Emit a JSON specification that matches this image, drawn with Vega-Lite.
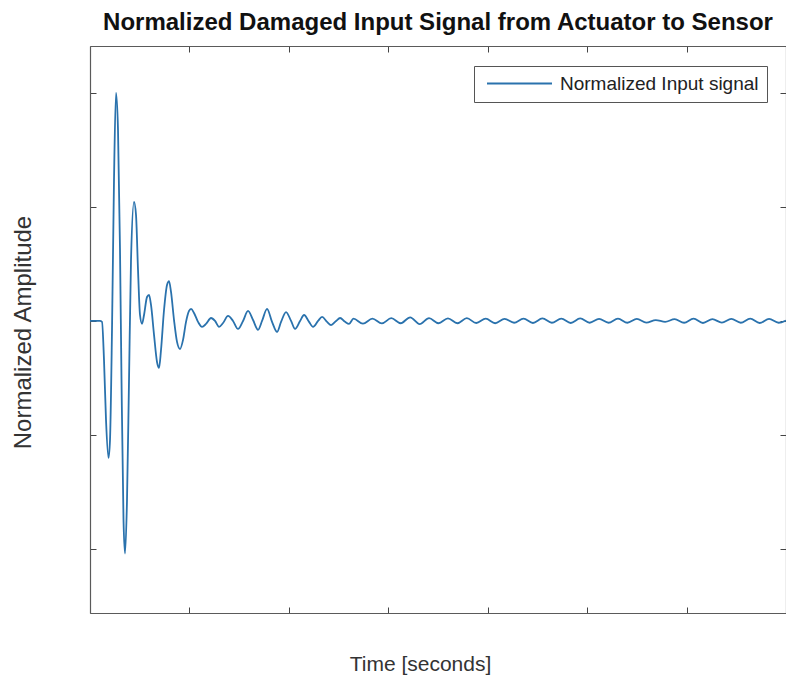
{
  "$schema": "https://vega.github.io/schema/vega-lite/v6.json",
  "autosize": {"type": "none"},
  "width": 696,
  "height": 567,
  "padding": {"left": 90, "top": 46, "right": 0, "bottom": 71},
  "background": "white",
  "config": {
    "view": {"stroke": null},
    "font": "Liberation Sans",
    "axis": {"grid": false, "labels": false, "domainColor": "#5a5a5a", "domainWidth": 1.2, "tickColor": "#444", "tickSize": -6, "tickWidth": 1}
  },
  "title": {"text": "Normalized Damaged Input Signal from Actuator to Sensor", "fontSize": 24, "fontWeight": "bold", "color": "#111", "anchor": "middle", "offset": 11, "font": "Liberation Sans"},
  "data": {"values": [
    {"t": 0, "v": 0}, {"t": 0.1006, "v": 0}, {"t": 0.1207, "v": -0.004}, {"t": 0.1408, "v": -0.171},
    {"t": 0.161, "v": -0.434}, {"t": 0.1861, "v": -0.601}, {"t": 0.2012, "v": -0.522}, {"t": 0.2213, "v": -0.039},
    {"t": 0.2414, "v": 0.618}, {"t": 0.2616, "v": 1.0}, {"t": 0.2817, "v": 0.838}, {"t": 0.3018, "v": 0.311},
    {"t": 0.3169, "v": -0.259}, {"t": 0.337, "v": -0.873}, {"t": 0.3521, "v": -1.02}, {"t": 0.3722, "v": -0.785},
    {"t": 0.3924, "v": -0.259}, {"t": 0.4125, "v": 0.268}, {"t": 0.4427, "v": 0.522}, {"t": 0.4628, "v": 0.465},
    {"t": 0.4829, "v": 0.224}, {"t": 0.503, "v": 0.026}, {"t": 0.5231, "v": -0.013}, {"t": 0.5433, "v": 0.026},
    {"t": 0.5734, "v": 0.105}, {"t": 0.5936, "v": 0.114}, {"t": 0.6137, "v": 0.07}, {"t": 0.6439, "v": -0.061},
    {"t": 0.674, "v": -0.18}, {"t": 0.6942, "v": -0.206}, {"t": 0.7143, "v": -0.127}, {"t": 0.7445, "v": 0.048},
    {"t": 0.7746, "v": 0.158}, {"t": 0.7948, "v": 0.175}, {"t": 0.8149, "v": 0.127}, {"t": 0.8451, "v": 0.004},
    {"t": 0.8753, "v": -0.092}, {"t": 0.9054, "v": -0.123}, {"t": 0.9356, "v": -0.083}, {"t": 0.9658, "v": -0.004},
    {"t": 0.996, "v": 0.044}, {"t": 1.0161, "v": 0.053}, {"t": 1.0463, "v": 0.035}, {"t": 1.0865, "v": -0.004},
    {"t": 1.1268, "v": -0.026}, {"t": 1.167, "v": -0.013}, {"t": 1.2173, "v": 0.013}, {"t": 1.2575, "v": 0},
    {"t": 1.2978, "v": -0.026}, {"t": 1.338, "v": -0.009}, {"t": 1.3883, "v": 0.022}, {"t": 1.4386, "v": 0},
    {"t": 1.4889, "v": -0.035}, {"t": 1.5392, "v": 0}, {"t": 1.5895, "v": 0.044}, {"t": 1.6398, "v": 0.004},
    {"t": 1.6901, "v": -0.039}, {"t": 1.7304, "v": 0}, {"t": 1.7807, "v": 0.053}, {"t": 1.831, "v": -0.004},
    {"t": 1.8813, "v": -0.048}, {"t": 1.9215, "v": -0.004}, {"t": 1.9718, "v": 0.039}, {"t": 2.0221, "v": 0},
    {"t": 2.0624, "v": -0.035}, {"t": 2.1127, "v": 0}, {"t": 2.1529, "v": 0.026}, {"t": 2.2032, "v": -0.004},
    {"t": 2.2435, "v": -0.026}, {"t": 2.2938, "v": 0}, {"t": 2.334, "v": 0.018}, {"t": 2.3843, "v": -0.004},
    {"t": 2.4245, "v": -0.018}, {"t": 2.4748, "v": 0}, {"t": 2.5151, "v": 0.013}, {"t": 2.5654, "v": -0.004},
    {"t": 2.6056, "v": -0.013}, {"t": 2.65, "v": 0.01}, {"t": 2.745, "v": -0.012}, {"t": 2.84, "v": 0.01},
    {"t": 2.935, "v": -0.011}, {"t": 3.03, "v": 0.012}, {"t": 3.125, "v": -0.01}, {"t": 3.22, "v": 0.016},
    {"t": 3.315, "v": -0.014}, {"t": 3.41, "v": 0.012}, {"t": 3.505, "v": -0.01}, {"t": 3.6, "v": 0.011},
    {"t": 3.695, "v": -0.01}, {"t": 3.79, "v": 0.012}, {"t": 3.885, "v": -0.009}, {"t": 3.98, "v": 0.01},
    {"t": 4.075, "v": -0.01}, {"t": 4.17, "v": 0.009}, {"t": 4.265, "v": -0.008}, {"t": 4.36, "v": 0.01},
    {"t": 4.455, "v": -0.009}, {"t": 4.55, "v": 0.011}, {"t": 4.645, "v": -0.008}, {"t": 4.74, "v": 0.01},
    {"t": 4.835, "v": -0.009}, {"t": 4.93, "v": 0.011}, {"t": 5.025, "v": -0.008}, {"t": 5.12, "v": 0.009},
    {"t": 5.215, "v": -0.008}, {"t": 5.31, "v": 0.01}, {"t": 5.405, "v": -0.008}, {"t": 5.5, "v": 0.009},
    {"t": 5.595, "v": -0.007}, {"t": 5.69, "v": 0.004}, {"t": 5.785, "v": -0.004}, {"t": 5.88, "v": 0.008},
    {"t": 5.975, "v": -0.008}, {"t": 6.07, "v": 0.01}, {"t": 6.165, "v": -0.009}, {"t": 6.26, "v": 0.008},
    {"t": 6.355, "v": -0.007}, {"t": 6.45, "v": 0.009}, {"t": 6.545, "v": -0.008}, {"t": 6.64, "v": 0.01},
    {"t": 6.735, "v": -0.009}, {"t": 6.83, "v": 0.009}, {"t": 6.925, "v": -0.008}, {"t": 7.0, "v": 0.002}
  ]},
  "layer": [
    {
      "mark": {"type": "line", "interpolate": "monotone", "strokeWidth": 1.8, "clip": true},
      "encoding": {
        "x": {"field": "t", "type": "quantitative", "scale": {"domain": [0, 7], "nice": false, "zero": false},
              "axis": {"orient": "bottom", "values": [0, 1, 2, 3, 4, 5, 6, 7], "title": "Time [seconds]", "titleFontSize": 21, "titleFontWeight": "normal", "titleColor": "#333", "titleX": 330, "titleY": 40, "titleBaseline": "top", "titleAlign": "center"}},
        "y": {"field": "v", "type": "quantitative", "scale": {"domain": [-1.281, 1.206], "nice": false, "zero": false},
              "axis": {"orient": "left", "values": [-1, -0.5, 0, 0.5, 1], "title": "Normalized Amplitude", "titleFontSize": 24, "titleFontWeight": "normal", "titleColor": "#333", "titleX": -55, "titleY": 286, "titleAngle": -90, "titleAlign": "center", "titleBaseline": "bottom"}},
        "color": {"datum": "Normalized Input signal", "type": "nominal", "scale": {"range": ["#2a72ad"]},
                  "legend": {"title": null, "orient": "none", "legendX": 384, "legendY": 20, "symbolType": "M-4,0H4", "symbolSize": 264, "symbolStrokeWidth": 1.8, "symbolStrokeColor": "#2a72ad", "symbolOffset": 28, "labelOffset": 31, "labelFontSize": 19, "labelColor": "#222", "labelFont": "Liberation Sans", "strokeColor": "#555", "padding": 8, "fillColor": "white", "labelLimit": 400}}
      }
    },
    {
      "mark": {"type": "line", "strokeOpacity": 0},
      "encoding": {
        "x": {"field": "t", "type": "quantitative", "scale": {"domain": [0, 7], "nice": false, "zero": false},
              "axis": {"orient": "top", "values": [0, 1, 2, 3, 4, 5, 6, 7], "title": null}},
        "y": {"field": "v", "type": "quantitative", "scale": {"domain": [-1.281, 1.206], "nice": false, "zero": false},
              "axis": {"orient": "right", "values": [-1, -0.5, 0, 0.5, 1], "title": null}}
      }
    }
  ],
  "resolve": {"scale": {"x": "independent", "y": "independent"}}
}
